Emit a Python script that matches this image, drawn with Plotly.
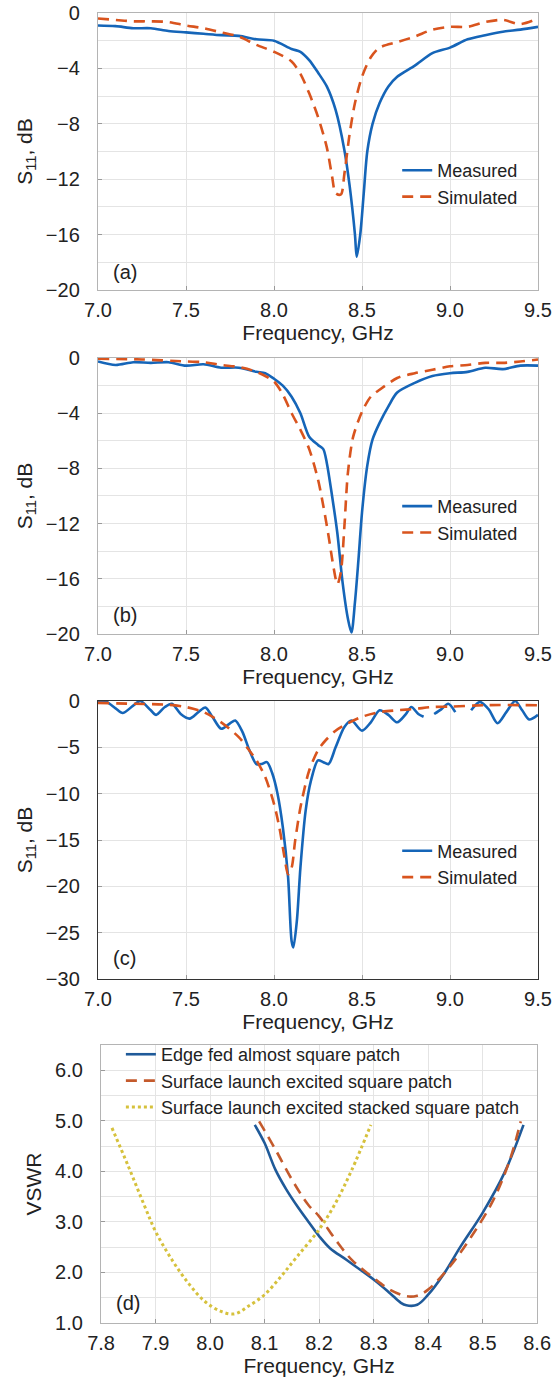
import plotly.graph_objects as go

# ---- panel (a) ----
a_meas_f = [7.0, 7.1, 7.2, 7.3, 7.4, 7.5, 7.6, 7.7, 7.8, 7.9, 8.0, 8.1, 8.15, 8.2, 8.25, 8.3,
            8.35, 8.4, 8.43, 8.46, 8.47, 8.49, 8.51, 8.53, 8.56, 8.6, 8.65, 8.7, 8.8, 8.9,
            9.0, 9.1, 9.2, 9.3, 9.4, 9.5]
a_meas_db = [-0.9, -0.95, -1.1, -1.1, -1.3, -1.4, -1.5, -1.6, -1.65, -1.9, -2.0, -2.6, -2.8,
             -3.4, -4.3, -5.3, -7.0, -9.9, -12.5, -16.0, -17.6, -16.0, -13.0, -10.0, -8.0,
             -6.5, -5.3, -4.6, -3.8, -2.9, -2.5, -1.9, -1.6, -1.35, -1.2, -1.0]
a_sim_f = [7.0, 7.1, 7.2, 7.3, 7.4, 7.5, 7.6, 7.7, 7.8, 7.9, 8.0, 8.1, 8.15, 8.2, 8.25, 8.3,
           8.33, 8.35, 8.38, 8.4, 8.43, 8.46, 8.5, 8.55, 8.6, 8.7, 8.8, 8.9, 9.0, 9.1, 9.2,
           9.3, 9.4, 9.5]
a_sim_db = [-0.4, -0.5, -0.6, -0.6, -0.65, -0.9, -1.1, -1.4, -1.7, -2.3, -2.8, -3.5, -4.4,
            -5.8, -7.5, -9.7, -11.8, -13.0, -13.1, -11.6, -8.7, -6.5, -4.6, -3.2, -2.5, -2.1,
            -1.7, -1.2, -1.0, -1.0, -0.65, -0.5, -0.8, -0.4]

# ---- panel (b) ----
b_meas_f = [7.0, 7.1, 7.2, 7.3, 7.4, 7.5, 7.6, 7.7, 7.8, 7.9, 7.95, 8.0, 8.05, 8.1, 8.15, 8.2,
            8.25, 8.28, 8.3, 8.33, 8.36, 8.39, 8.42, 8.44, 8.46, 8.48, 8.5, 8.53, 8.56, 8.6,
            8.65, 8.7, 8.8, 8.9, 9.0, 9.1, 9.2, 9.3, 9.4, 9.5]
b_meas_db = [-0.25, -0.5, -0.3, -0.35, -0.3, -0.55, -0.45, -0.7, -0.7, -1.0, -1.1, -1.5, -2.0,
             -2.8, -4.0, -5.7, -6.3, -6.6, -7.6, -10.0, -12.7, -16.3, -18.9, -19.9, -17.7,
             -14.6, -11.2, -7.8, -5.9, -4.7, -3.5, -2.5, -1.8, -1.3, -1.1, -1.0, -0.7, -0.8,
             -0.55, -0.55]
b_sim_f = [7.0, 7.25, 7.5, 7.6, 7.7, 7.8, 7.9, 8.0, 8.05, 8.1, 8.15, 8.2, 8.25, 8.28, 8.31,
           8.34, 8.36, 8.38, 8.4, 8.42, 8.45, 8.5, 8.55, 8.6, 8.7, 8.8, 8.9, 9.0, 9.1, 9.2,
           9.3, 9.4, 9.5]
b_sim_db = [-0.05, -0.1, -0.25, -0.3, -0.5, -0.65, -1.0, -1.7, -2.65, -4.0, -5.2, -6.6, -8.8,
            -10.7, -12.9, -15.3, -16.4, -15.5, -12.2, -8.3, -5.7, -3.9, -2.8, -2.3, -1.45,
            -1.1, -0.85, -0.6, -0.5, -0.35, -0.35, -0.25, -0.1]

# ---- panel (c) ----  (None = gaps visible in the measured trace)
c_meas_f = [7.0, 7.04, 7.1, 7.14, 7.2, 7.24, 7.3, 7.33, 7.38, 7.42, 7.47, 7.52, 7.57, 7.61,
            7.65, 7.7, 7.75, 7.78, 7.82, 7.86, 7.9, 7.93, 7.96, 7.99, 8.02, 8.05, 8.08, 8.1,
            8.11, 8.13, 8.15, 8.18, 8.21, 8.25, 8.28, 8.31, 8.35, 8.4, 8.44, 8.5, 8.55, 8.6,
            8.65, 8.7, 8.75, 8.78, 8.82, 8.85, 8.88, 8.91, 8.95, 8.99, 9.03, 9.08, 9.12,
            9.17, 9.22, 9.27, 9.32, 9.37, 9.41, 9.45, 9.5]
c_meas_db = [-0.1, 0.0, -0.8, -1.3, -0.5, 0.0, -1.0, -1.5, -0.65, -0.3, -1.4, -1.9, -1.2, -0.7,
             -1.7, -3.0, -2.4, -2.1, -3.3, -5.3, -6.8, -6.8, -6.6, -7.8, -10.0, -13.6, -19.0,
             -25.9, -26.6, -23.7, -18.0, -11.8, -8.6, -6.4, -6.6, -6.8, -5.0, -2.8, -2.1, -3.2,
             -2.3, -1.0, -1.5, -2.3, -1.4, -0.65, -1.4, -1.7, None, -1.4, -0.9, -0.3, -1.2,
             None, -1.0, -0.1, -0.9, -2.4, -1.2, 0.0, -1.0, -2.0, -1.5]
c_sim_f = [7.0, 7.2, 7.4, 7.5, 7.6, 7.7, 7.8, 7.85, 7.9, 7.95, 8.0, 8.03, 8.06, 8.08, 8.1,
           8.12, 8.15, 8.18, 8.2, 8.25, 8.3, 8.35, 8.4, 8.5, 8.6, 8.7, 8.8, 8.9, 9.0, 9.2, 9.5]
c_sim_db = [-0.2, -0.3, -0.4, -0.65, -1.2, -2.3, -3.9, -5.1, -6.4, -8.2, -11.1, -13.6, -16.9,
            -18.7, -18.0, -15.1, -11.5, -8.9, -7.5, -5.3, -4.1, -3.2, -2.6, -1.7, -1.2, -1.0,
            -0.85, -0.65, -0.6, -0.45, -0.45]

# ---- panel (d) VSWR ----
d_edge_f = [8.082, 8.1, 8.12, 8.14, 8.16, 8.18, 8.2, 8.22, 8.25, 8.3, 8.33, 8.35, 8.36, 8.38,
            8.4, 8.43, 8.46, 8.5, 8.54, 8.575]
d_edge_v = [4.92, 4.56, 4.03, 3.64, 3.31, 3.01, 2.72, 2.48, 2.25, 1.86, 1.59, 1.40, 1.35, 1.36,
            1.56, 1.99, 2.52, 3.18, 3.97, 4.92]
d_square_f = [8.09, 8.12, 8.15, 8.18, 8.2, 8.23, 8.26, 8.3, 8.33, 8.36, 8.38, 8.4, 8.44, 8.48,
              8.52, 8.55, 8.57]
d_square_v = [4.99, 4.43, 3.84, 3.34, 3.11, 2.65, 2.25, 1.89, 1.66, 1.53, 1.54, 1.66, 2.12,
              2.72, 3.44, 4.23, 4.99]
d_stack_f = [7.82, 7.85, 7.88, 7.9, 7.93, 7.96, 7.99, 8.02, 8.045, 8.07, 8.1, 8.13, 8.16, 8.2,
             8.23, 8.26, 8.295]
d_stack_v = [4.86, 4.1, 3.31, 2.81, 2.25, 1.79, 1.43, 1.23, 1.18, 1.33, 1.56, 1.92, 2.32, 2.85,
             3.37, 4.03, 4.92]

panel_tags = ["(a)", "(b)", "(c)", "(d)"]
s11_names = ["Measured", "Simulated"]
vswr_names = ["Edge fed almost square patch", "Surface launch excited square patch",
              "Surface launch excited stacked square patch"]

BLUE = "#1565b8"
ORANGE = "#d9541e"
FONT = "Liberation Sans, Arial, sans-serif"

fig = go.Figure()

s11_sets = [(a_meas_f, a_meas_db, a_sim_f, a_sim_db),
            (b_meas_f, b_meas_db, b_sim_f, b_sim_db),
            (c_meas_f, c_meas_db, c_sim_f, c_sim_db)]
for i, (mf, mv, sf, sv) in enumerate(s11_sets):
    n = "" if i == 0 else str(i + 1)
    leg = "legend" + n
    fig.add_trace(go.Scatter(x=mf, y=mv, mode="lines", name=s11_names[0],
                             line=dict(color=BLUE, width=2.6, shape="spline", smoothing=0.8),
                             xaxis="x" + n, yaxis="y" + n, legend=leg, connectgaps=False))
    fig.add_trace(go.Scatter(x=sf, y=sv, mode="lines", name=s11_names[1],
                             line=dict(color=ORANGE, width=2.6, dash="11px,7px",
                                       shape="spline", smoothing=0.8),
                             xaxis="x" + n, yaxis="y" + n, legend=leg))

fig.add_trace(go.Scatter(x=d_edge_f, y=d_edge_v, mode="lines", name=vswr_names[0],
                         line=dict(color="#1f5a99", width=2.6, shape="spline"),
                         xaxis="x4", yaxis="y4", legend="legend4"))
fig.add_trace(go.Scatter(x=d_square_f, y=d_square_v, mode="lines", name=vswr_names[1],
                         line=dict(color="#c45a2c", width=2.6, dash="11px,7px", shape="spline"),
                         xaxis="x4", yaxis="y4", legend="legend4"))
fig.add_trace(go.Scatter(x=d_stack_f, y=d_stack_v, mode="lines", name=vswr_names[2],
                         line=dict(color="#d6c13c", width=3, dash="dot", shape="spline"),
                         xaxis="x4", yaxis="y4", legend="legend4"))

# vertical domains (paper coords)
ydoms = [[0.7885, 1.0], [0.526, 0.7366], [0.2626, 0.4748], [0.0, 0.2122]]
box_colors = ["#b4b4b4", "#b4b4b4", "#333333", "#b4b4b4"]
yranges = [[-20, 0], [-20, 0], [-30, 0], [1, 6.5]]
ydticks = [4, 4, 5, 1]
yminor = [2, 2, None, 0.5]
xranges = [[7.0, 9.5], [7.0, 9.5], [7.0, 9.5], [7.8, 8.6]]
xdticks = [0.5, 0.5, 0.5, 0.1]
ytitles = ["S<sub>11</sub>, dB"] * 3 + ["VSWR"]

tick_font = dict(family=FONT, size=20, color="#222222")
title_font = dict(family=FONT, size=21, color="#222222")

layout = {}
for i in range(4):
    n = "" if i == 0 else str(i + 1)
    xdom = [0.0, 1.0] if i < 3 else [0.007, 0.998]
    layout["xaxis" + n] = dict(
        domain=xdom, anchor="y" + n, range=xranges[i], dtick=xdticks[i], tick0=xranges[i][0],
        tickformat=".1f", showgrid=True, gridcolor="#e4e4e4", gridwidth=1,
        showline=True, linecolor=box_colors[i], linewidth=1.4, mirror=True,
        ticks="inside", ticklen=4, tickcolor="#999999", zeroline=False, automargin=False,
        tickfont=tick_font, ticklabelstandoff=2,
        title=dict(text="Frequency, GHz", font=title_font, standoff=2))
    ydict = dict(
        domain=ydoms[i], anchor="x" + n, range=yranges[i], dtick=ydticks[i],
        tick0=yranges[i][0], showgrid=True, gridcolor="#e4e4e4", gridwidth=1,
        showline=True, linecolor=box_colors[i], linewidth=1.4, mirror=True,
        ticks="inside", ticklen=4, tickcolor="#999999", zeroline=False, automargin=False,
        tickfont=tick_font, ticklabelstandoff=13,
        title=dict(text=ytitles[i], font=title_font, standoff=7))
    if i == 3:
        ydict["tickformat"] = ".1f"
    if yminor[i]:
        ydict["minor"] = dict(dtick=yminor[i], showgrid=True, gridcolor="#e4e4e4", ticks="")
    layout["yaxis" + n] = ydict

legend_base = dict(font=dict(family=FONT, size=18, color="#222222"), bgcolor="rgba(0,0,0,0)",
                   borderwidth=0, tracegroupgap=0, itemwidth=30, yanchor="middle",
                   xanchor="left")
layout["legend"] = dict(legend_base, x=0.68, y=0.8698)
layout["legend2"] = dict(legend_base, x=0.68, y=0.6134)
layout["legend3"] = dict(legend_base, x=0.68, y=0.3504)
layout["legend4"] = dict(legend_base, x=0.052, y=0.1847)

annotations = []
tag_y = [0.065, 0.069, 0.076, 0.072]
for i, tag in enumerate(panel_tags):
    n = "" if i == 0 else str(i + 1)
    annotations.append(dict(text=tag, x=0.03, y=tag_y[i], xref="x" + n + " domain",
                            yref="y" + n + " domain", xanchor="left", yanchor="middle",
                            showarrow=False, font=dict(family=FONT, size=20, color="#222222")))

fig.update_layout(
    width=553, height=1378,
    margin=dict(l=98, r=15, t=13, b=55),
    plot_bgcolor="white", paper_bgcolor="white",
    annotations=annotations,
    **layout)

# drop the default 8px page margin so the figure fills the window exactly
fig.write_html("out.html", config={"displayModeBar": False},
               post_script="document.body.style.margin = '0';")
